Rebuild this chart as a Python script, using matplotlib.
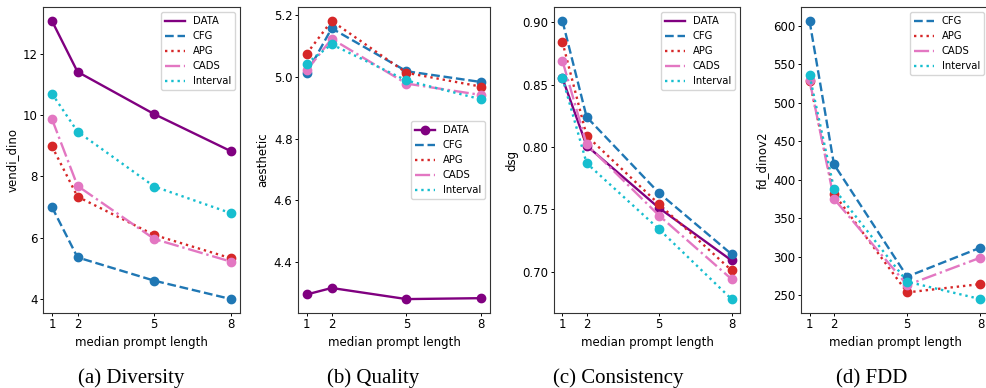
import numpy as np
import matplotlib
matplotlib.use("Agg")
import matplotlib.pyplot as plt

# prompt lengths on the x axis
lengths = [1, 2, 5, 8]
methods = ["DATA", "CFG", "APG", "CADS", "Interval"]

# (a) diversity: vendi_dino
vendi_data = [13.07, 11.41, 10.03, 8.82]
vendi_cfg = [7.00, 5.36, 4.60, 4.00]
vendi_apg = [8.98, 7.34, 6.09, 5.33]
vendi_cads = [9.87, 7.69, 5.96, 5.22]
vendi_interval = [10.70, 9.46, 7.67, 6.80]

# (b) quality: aesthetic
aes_data = [4.295, 4.316, 4.280, 4.283]
aes_cfg = [5.011, 5.157, 5.018, 4.983]
aes_apg = [5.075, 5.181, 5.013, 4.968]
aes_cads = [5.021, 5.123, 4.978, 4.941]
aes_interval = [5.043, 5.105, 4.988, 4.927]

# (c) consistency: dsg
dsg_data = [0.855, 0.801, 0.751, 0.709]
dsg_cfg = [0.901, 0.824, 0.763, 0.714]
dsg_apg = [0.884, 0.809, 0.754, 0.701]
dsg_cads = [0.869, 0.802, 0.745, 0.694]
dsg_interval = [0.855, 0.787, 0.734, 0.678]

# (d) FDD: fd_dinov2 (no DATA series)
fdd_cfg = [606.5, 420.0, 274.0, 311.7]
fdd_apg = [528.0, 381.7, 253.5, 264.3]
fdd_cads = [529.6, 375.2, 263.0, 298.7]
fdd_interval = [535.7, 388.3, 267.4, 244.8]

colors = {"DATA": "purple", "CFG": "#1f77b4", "APG": "#d62728",
          "CADS": "#e377c2", "Interval": "#17becf"}
styles = {"DATA": "-", "CFG": "--", "APG": ":", "CADS": "-.", "Interval": ":"}

W, H = 987, 388
fig = plt.figure(figsize=(W / 100, H / 100), dpi=100)


def make_axes(left, right, top=7, bottom=313):
    return fig.add_axes([left / W, 1 - bottom / H, (right - left) / W, (bottom - top) / H])


panels = [
    (make_axes(43, 240), "vendi_dino", "(a) Diversity", 131,
     [vendi_data, vendi_cfg, vendi_apg, vendi_cads, vendi_interval], "upper right"),
    (make_axes(298, 490), "aesthetic", "(b) Quality", 373,
     [aes_data, aes_cfg, aes_apg, aes_cads, aes_interval], "center right"),
    (make_axes(554, 740), "dsg", "(c) Consistency", 618,
     [dsg_data, dsg_cfg, dsg_apg, dsg_cads, dsg_interval], "upper right"),
    (make_axes(801, 989), "fd_dinov2", "(d) FDD", 872,
     [None, fdd_cfg, fdd_apg, fdd_cads, fdd_interval], "upper right"),
]

for i, (ax, ylabel, caption, cx, series, loc) in enumerate(panels):
    for name, vals in zip(methods, series):
        if vals is None:
            continue
        c = colors[name]
        if i == 1 and name == "DATA":
            # legend of the quality panel shows the marker for DATA
            ax.plot(lengths, vals, color=c, ls=styles[name], lw=1.7, marker="o", ms=6, label=name)
        else:
            ax.plot(lengths, vals, color=c, ls=styles[name], lw=1.7, label=name)
            ax.plot(lengths, vals, "o", color=c, ms=6)
    ax.set_xticks(lengths)
    ax.tick_params(labelsize=8.5, length=2.4, width=0.7, pad=1.5)
    for sp in ax.spines.values():
        sp.set_linewidth(0.8)
        sp.set_color("#333333")
    ax.set_xlabel("median prompt length", fontsize=8.5, labelpad=3)
    ax.set_ylabel(ylabel, fontsize=8.5, labelpad=3)
    leg = ax.legend(loc=loc, fontsize=7.2)
    fig.text(cx / W, 1 - 383 / H, caption, ha="center", va="baseline",
             fontsize=15, family="Liberation Serif")

fig.savefig("out.png", dpi=100)
